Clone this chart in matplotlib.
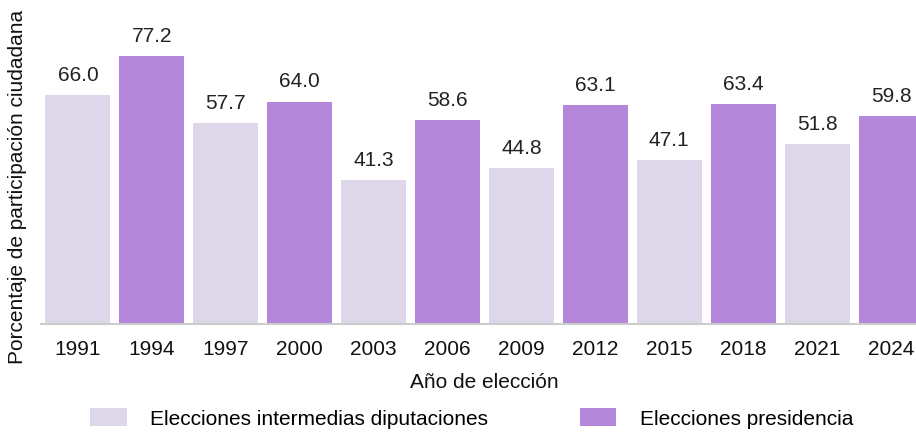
import matplotlib
matplotlib.use("Agg")
import matplotlib.pyplot as plt
from matplotlib.patches import Patch

years = ["1991", "1994", "1997", "2000", "2003", "2006", "2009", "2012", "2015", "2018", "2021", "2024"]
values = [66.0, 77.2, 57.7, 64.0, 41.3, 58.6, 44.8, 63.1, 47.1, 63.4, 51.8, 59.8]
types = ["inter", "pres", "inter", "pres", "inter", "pres", "inter", "pres", "inter", "pres", "inter", "pres"]
legend_labels = ["Elecciones intermedias diputaciones", "Elecciones presidencia"]

c_inter = "#ded7e9"
c_pres = "#b587db"
colors = [c_inter if t == "inter" else c_pres for t in types]

plt.rcParams['font.family'] = ['Liberation Sans', 'DejaVu Sans']
FS = 15

W, H = 916, 435
fig = plt.figure(figsize=(W / 100, H / 100), dpi=100)
left, right, top, bottom = 41, 928, 50, 325
ax = fig.add_axes([left / W, 1 - bottom / H, (right - left) / W, (bottom - top) / H])

x = list(range(len(years)))
ax.bar(x, values, width=0.88, color=colors, clip_on=False)
ax.set_xlim(-0.5, len(years) - 0.5)
ax.set_ylim(0, (bottom - top) / 3.475)

for xi, v in zip(x, values):
    ax.annotate(f"{v:.1f}", (xi, v), xytext=(0, 8), textcoords="offset points",
                ha="center", va="bottom", fontsize=FS, color="#222222", annotation_clip=False)

for s in ["top", "right", "left"]:
    ax.spines[s].set_visible(False)
ax.spines["bottom"].set_color("#cccccc")
ax.spines["bottom"].set_linewidth(1.5)
ax.set_yticks([])
ax.set_xticks(x)
ax.set_xticklabels(years, fontsize=FS, color="#111111")
ax.tick_params(axis="x", length=0, pad=11)
ax.set_xlabel("Año de elección", fontsize=FS, color="#111111", labelpad=10)
fig.text(18 / W, 1 - 187 / H, "Porcentaje de participación ciudadana", rotation=90,
         ha="center", va="center", fontsize=FS, color="#111111")

handles = [Patch(facecolor=c_inter, edgecolor="none"), Patch(facecolor=c_pres, edgecolor="none")]
fig.legend(handles, legend_labels, loc="center", bbox_to_anchor=(472 / W, 1 - 419 / H), ncol=2,
           frameon=False, fontsize=FS, handlelength=1.73, handleheight=0.96, columnspacing=4.4,
           handletextpad=1.15, borderpad=0, borderaxespad=0)

fig.savefig("out.png", dpi=100)
